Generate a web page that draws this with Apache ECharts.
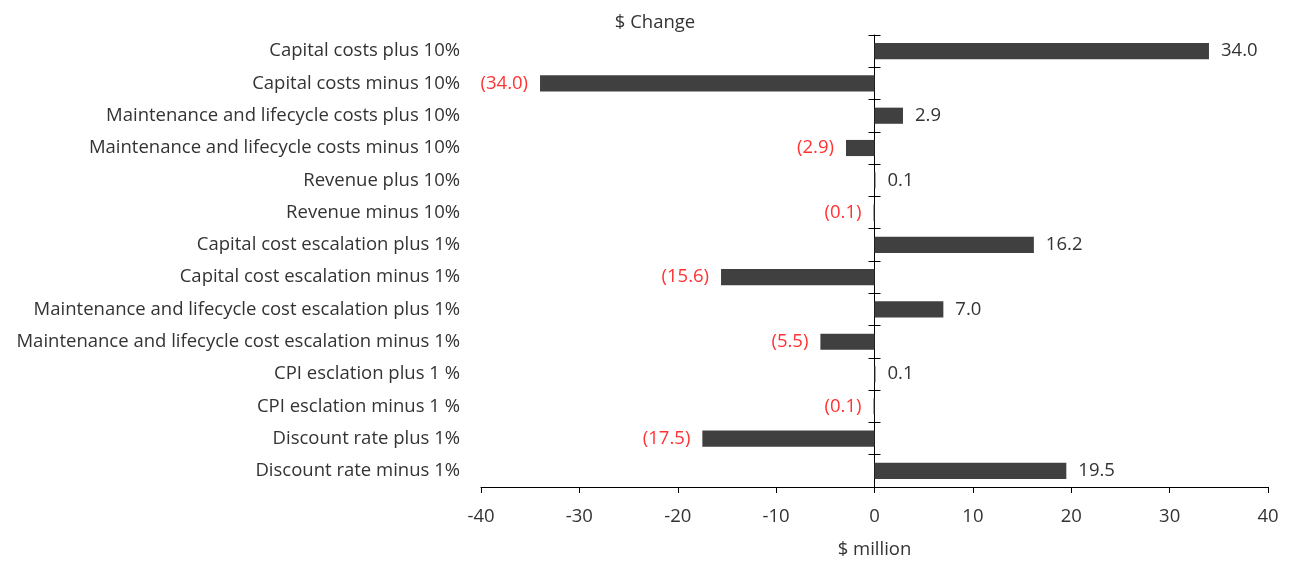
<!DOCTYPE html>
<html>
<head>
<meta charset="utf-8">
<script src="https://cdn.jsdelivr.net/npm/echarts@6/dist/echarts.min.js"></script>
<style>
  html, body { margin: 0; padding: 0; background: #fff; }
  #chart { width: 1290px; height: 561px; }
</style>
</head>
<body>
<div id="chart"></div>
<script>
// Sensitivity scenarios, top to bottom
const categories = [
  'Capital costs plus 10%',
  'Capital costs minus 10%',
  'Maintenance and lifecycle costs plus 10%',
  'Maintenance and lifecycle costs minus 10%',
  'Revenue plus 10%',
  'Revenue minus 10%',
  'Capital cost escalation plus 1%',
  'Capital cost escalation minus 1%',
  'Maintenance and lifecycle cost escalation plus 1%',
  'Maintenance and lifecycle cost escalation minus 1%',
  'CPI esclation plus 1 %',
  'CPI esclation minus 1 %',
  'Discount rate plus 1%',
  'Discount rate minus 1%'
];

// $ change per scenario ($ million)
const changes = [34.0, -34.0, 2.9, -2.9, 0.1, -0.1, 16.2, -15.6, 7.0, -5.5, 0.1, -0.1, -17.5, 19.5];

const xTicks = { min: -40, max: 40, interval: 10 };

const FONT = '"Open Sans", Lato, sans-serif';
const TEXT = '#333333';
const NEG = '#ff3333';
const FS = 18.5;
const FW = 'normal';

const fmt = v => v < 0 ? '(' + Math.abs(v).toFixed(1) + ')' : v.toFixed(1);

const barData = changes.map(v => ({
  value: v,
  label: {
    show: true,
    position: v < 0 ? 'left' : 'right',
    distance: 12,
    color: v < 0 ? NEG : TEXT,
    fontSize: FS,
    fontWeight: FW,
    fontFamily: FONT,
    padding: [7, 0, 0, 0],
    formatter: () => fmt(v)
  }
}));

const chart = echarts.init(document.getElementById('chart'), null, { renderer: 'canvas' });

chart.setOption({
  animation: false,
  backgroundColor: '#fff',
  title: {
    text: '$ Change',
    left: 650,
    top: 8,
    textAlign: 'center',
    textStyle: { fontFamily: FONT, fontSize: FS, fontWeight: FW, color: TEXT }
  },
  grid: { left: 481, right: 22, top: 35, bottom: 74, outerBoundsMode: 'none', containLabel: false },
  xAxis: {
    type: 'value',
    min: xTicks.min,
    max: xTicks.max,
    interval: xTicks.interval,
    name: '$ million',
    nameLocation: 'middle',
    nameGap: 53,
    nameTextStyle: { fontFamily: FONT, fontSize: FS, fontWeight: FW, color: TEXT },
    splitLine: { show: false },
    axisLine: { show: true, onZero: false, lineStyle: { color: '#000', width: 1 } },
    axisTick: { show: true, length: 6, lineStyle: { color: '#000' } },
    axisLabel: { fontFamily: FONT, fontSize: FS, fontWeight: FW, color: TEXT, margin: 20 }
  },
  yAxis: [
    {
      // scenario labels on the left edge of the plot
      type: 'category',
      data: categories,
      inverse: true,
      position: 'left',
      axisLine: { show: false, onZero: false },
      axisTick: { show: false },
      axisLabel: { fontFamily: FONT, fontSize: FS, fontWeight: FW, color: TEXT, margin: 21, padding: [8, 0, 0, 0] }
    },
    {
      // zero line, ticks on its left side
      type: 'category',
      data: categories,
      inverse: true,
      position: 'left',
      axisLine: { show: true, onZero: true, onZeroAxisIndex: 0, lineStyle: { color: '#000', width: 1 } },
      axisTick: { show: true, length: 6, lineStyle: { color: '#000' } },
      axisLabel: { show: false }
    },
    {
      // zero line ticks on its right side
      type: 'category',
      data: categories,
      inverse: true,
      position: 'right',
      axisLine: { show: false, onZero: true, onZeroAxisIndex: 0 },
      axisTick: { show: true, length: 6, lineStyle: { color: '#000' } },
      axisLabel: { show: false }
    }
  ],
  series: [{
    type: 'bar',
    yAxisIndex: 0,
    data: barData,
    barWidth: '50%',
    itemStyle: { color: '#404040' }
  }]
});
</script>
</body>
</html>
